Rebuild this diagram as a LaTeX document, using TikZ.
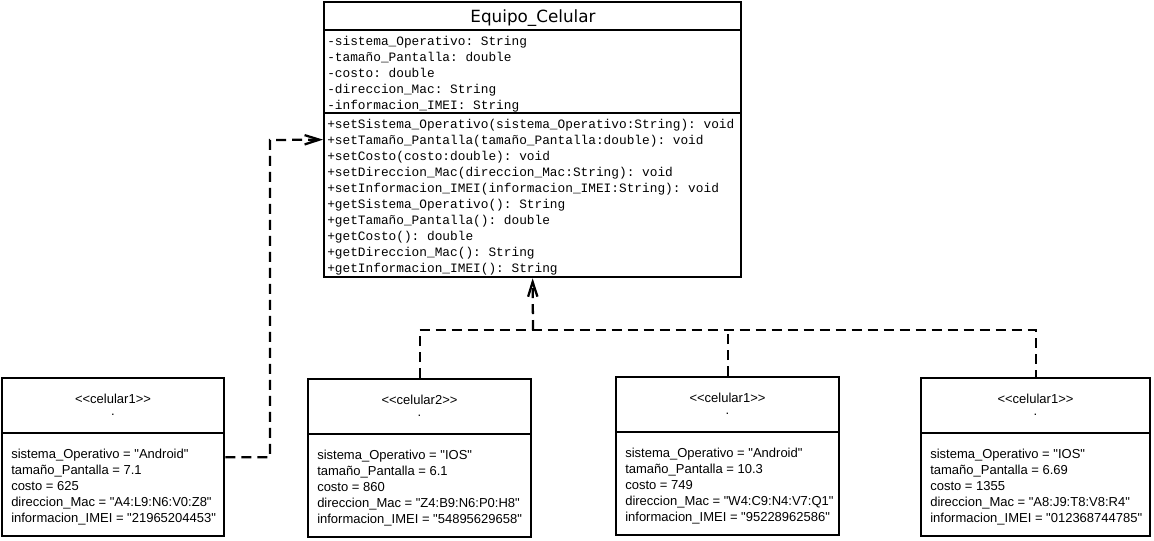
\documentclass[tikz,border=0pt]{standalone}
\usepackage{fontspec}
\setmonofont{Liberation Mono}
\newfontfamily\slotfont{Liberation Sans}
\newfontfamily\titlefont{DejaVu Sans}
\usepackage{tikz}
\usetikzlibrary{arrows.meta,positioning}
\tikzstyle{umlbox} = [draw, rectangle, line width=1.7pt, anchor=north west, inner sep=0pt]
\tikzstyle{member} = [anchor=base west, inner sep=0pt, font=\ttfamily\fontsize{9.6}{12}\selectfont]
\tikzstyle{slot} = [anchor=base west, inner sep=0pt, font=\slotfont\fontsize{9.75}{12}\selectfont]
\tikzstyle{stereo} = [anchor=base, inner sep=0pt, font=\slotfont\fontsize{9.75}{12}\selectfont]
\tikzstyle{dline} = [line width=1.7pt, dash pattern=on 7.5pt off 4.5pt]
\tikzstyle{dep} = [dline, -{Straight Barb[length=11pt,width=7pt]}]

\begin{document}
\begin{tikzpicture}[x=0.75pt, y=-0.75pt]
\useasboundingbox (0,0) rectangle (1154,540);

% Class Equipo_Celular
\node[umlbox, minimum width=312.75pt, minimum height=206.25pt] (equipo) at (323,1) {};
\draw[line width=1.7pt] (323,30) -- (742,30);
\draw[line width=1.7pt] (323,113) -- (742,113);
\node[anchor=base, inner sep=0pt, font=\titlefont\fontsize{12.6}{15}\selectfont] (titulo) at (533,22) {Equipo\_Celular};

% Attributes
\foreach \k/\txt in {0/-sistema\_Operativo: String, 1/-tamaño\_Pantalla: double, 2/-costo: double, 3/-direccion\_Mac: String, 4/-informacion\_IMEI: String}
    \node[member] (attr\k) at (327,45+16*\k) {\txt};

% Methods
\foreach \k/\txt in {0/+setSistema\_Operativo(sistema\_Operativo:String): void,
                     1/+setTamaño\_Pantalla(tamaño\_Pantalla:double): void,
                     2/+setCosto(costo:double): void,
                     3/+setDireccion\_Mac(direccion\_Mac:String): void,
                     4/+setInformacion\_IMEI(informacion\_IMEI:String): void,
                     5/+getSistema\_Operativo(): String,
                     6/+getTamaño\_Pantalla(): double,
                     7/+getCosto(): double,
                     8/+getDireccion\_Mac(): String,
                     9/+getInformacion\_IMEI(): String}
    \node[member] (meth\k) at (327,128+16*\k) {\txt};

% Object boxes
\foreach \n/\x/\y/\w/\name in {1/1/377/224/celular1, 2/307/378/225/celular2, 3/615/376/225/celular1, 4/920/377/231/celular1} {
    \node[umlbox, minimum width={(\w-2)*0.75pt}, minimum height=118.5pt] (cel\n) at (\x,\y) {};
    \draw[line width=1.7pt] (\x,\y+56) -- (\x+\w,\y+56);
    \node[stereo] (tag\n) at (\x+\w/2,\y+26) {<<\name>>};
    \node[stereo] (dot\n) at (\x+\w/2,\y+38) {.};
}

% Slots
\foreach \k/\txt in {0/sistema\_Operativo = "Android", 1/tamaño\_Pantalla = 7.1, 2/costo = 625, 3/direccion\_Mac = "A4:L9:N6:V0:Z8", 4/informacion\_IMEI = "21965204453"}
    \node[slot] (a\k) at (11,458+16*\k) {\txt};
\foreach \k/\txt in {0/sistema\_Operativo = "IOS", 1/tamaño\_Pantalla = 6.1, 2/costo = 860, 3/direccion\_Mac = "Z4:B9:N6:P0:H8", 4/informacion\_IMEI = "54895629658"}
    \node[slot] (b\k) at (317,459+16*\k) {\txt};
\foreach \k/\txt in {0/sistema\_Operativo = "Android", 1/tamaño\_Pantalla = 10.3, 2/costo = 749, 3/direccion\_Mac = "W4:C9:N4:V7:Q1", 4/informacion\_IMEI = "95228962586"}
    \node[slot] (c\k) at (625,457+16*\k) {\txt};
\foreach \k/\txt in {0/sistema\_Operativo = "IOS", 1/tamaño\_Pantalla = 6.69, 2/costo = 1355, 3/direccion\_Mac = "A8:J9:T8:V8:R4", 4/informacion\_IMEI = "012368744785"}
    \node[slot] (d\k) at (930,458+16*\k) {\txt};

% Dependencies
\coordinate (elbow) at (270,140);
\draw[dep] (cel1.east) -| (elbow) -- (equipo.west);
\coordinate (join) at (533,330);
\draw[dep] (join) -- (equipo.south);
\draw[dline] (cel2.north) |- (join) -| (cel4.north);
\draw[dline] (cel3.north) -- (cel3.north |- join);
\end{tikzpicture}
\end{document}
